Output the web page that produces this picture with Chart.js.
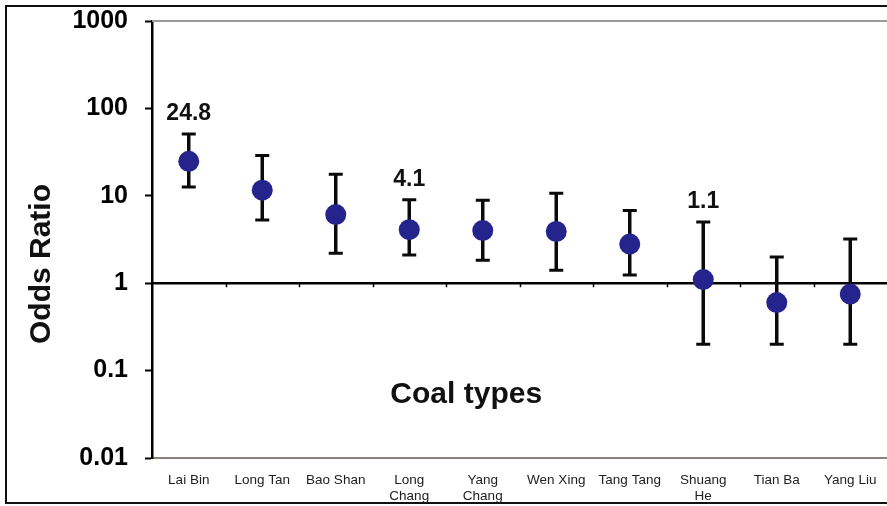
<!DOCTYPE html>
<html>
<head>
<meta charset="utf-8">
<script src="https://cdn.jsdelivr.net/npm/chart.js@4/dist/chart.umd.min.js"></script>
<style>
  html, body { margin: 0; padding: 0; background: #fff; overflow: hidden; }
  #wrap { width: 887px; height: 506px; position: relative; overflow: hidden; }
  #c { display: block; }
</style>
</head>
<body>
<div id="wrap"><canvas id="c" width="887" height="506"></canvas></div>
<script>
// Coal types and odds ratios with 95% confidence limits
const categories = [
  'Lai Bin', 'Long Tan', 'Bao Shan', ['Long', 'Chang'], ['Yang', 'Chang'],
  'Wen Xing', 'Tang Tang', ['Shuang', 'He'], 'Tian Ba', 'Yang Liu'
];
const oddsRatio = [24.8, 11.6, 6.1, 4.1, 4.0, 3.9, 2.8, 1.1, 0.6, 0.75];
const upperCI   = [51, 29, 17.6, 9.0, 8.9, 10.7, 6.8, 5.0, 2.0, 3.2];
const lowerCI   = [12.6, 5.3, 2.2, 2.1, 1.83, 1.41, 1.24, 0.2, 0.2, 0.2];
const labelledPoints = [0, 3, 7];
const yTicks = [0.01, 0.1, 1, 10, 100, 1000];
const referenceValue = 1;

const FONT = 'Liberation Sans, Arial, Helvetica, sans-serif';

function noScalePadding(scale) {
  scale.paddingTop = 0;
  scale.paddingBottom = 0;
  scale.paddingLeft = 0;
  scale.paddingRight = 0;
}

const overlay = {
  id: 'overlay',
  beforeDraw(chart) {
    const ctx = chart.ctx;
    ctx.save();
    ctx.fillStyle = '#ffffff';
    ctx.fillRect(0, 0, chart.width, chart.height);
    // outer frame
    ctx.strokeStyle = '#111';
    ctx.lineWidth = 2;
    ctx.strokeRect(6, 6, chart.width + 20, chart.height - 9);
    ctx.restore();
  },
  beforeDatasetsDraw(chart) {
    const ctx = chart.ctx;
    const {left, right, top, bottom} = chart.chartArea;
    const x = chart.scales.x, y = chart.scales.y;
    ctx.save();
    // top frame line of the plot
    ctx.strokeStyle = '#9a9a9a';
    ctx.lineWidth = 2;
    ctx.beginPath();
    ctx.moveTo(left, top);
    ctx.lineTo(right, top);
    ctx.stroke();
    // reference line at OR = 1 with category ticks
    const y1 = y.getPixelForValue(referenceValue);
    ctx.strokeStyle = '#000';
    ctx.lineWidth = 2.5;
    ctx.beginPath();
    ctx.moveTo(left, y1);
    ctx.lineTo(right, y1);
    ctx.stroke();
    const band = (right - left) / categories.length;
    ctx.lineWidth = 1.5;
    for (let k = 1; k < categories.length; k++) {
      const bx = Math.round(left + band * k) + 0.5;
      ctx.beginPath();
      ctx.moveTo(bx, y1);
      ctx.lineTo(bx, y1 + 4);
      ctx.stroke();
    }
    // confidence intervals
    ctx.strokeStyle = '#0a0a0a';
    for (let i = 0; i < categories.length; i++) {
      const px = x.getPixelForValue(i);
      const yu = y.getPixelForValue(upperCI[i]);
      const yl = y.getPixelForValue(lowerCI[i]);
      ctx.lineWidth = 3.5;
      ctx.beginPath();
      ctx.moveTo(px, yu);
      ctx.lineTo(px, yl);
      ctx.stroke();
      ctx.lineWidth = 3;
      ctx.beginPath();
      ctx.moveTo(px - 7, yu); ctx.lineTo(px + 7, yu);
      ctx.moveTo(px - 7, yl); ctx.lineTo(px + 7, yl);
      ctx.stroke();
    }
    ctx.restore();
  },
  afterDatasetsDraw(chart) {
    const ctx = chart.ctx;
    const {left, right, top, bottom} = chart.chartArea;
    const x = chart.scales.x, y = chart.scales.y;
    ctx.save();
    ctx.fillStyle = '#111';
    ctx.textAlign = 'center';
    ctx.textBaseline = 'middle';
    // value labels above the interval
    ctx.font = 'bold 23px ' + FONT;
    labelledPoints.forEach(i => {
      ctx.fillText(oddsRatio[i].toFixed(1), x.getPixelForValue(i), y.getPixelForValue(upperCI[i]) - 20);
    });
    // in-plot x axis caption
    ctx.font = 'bold 30px ' + FONT;
    ctx.fillText('Coal types', left + (right - left) * 0.4275, top + (bottom - top) * 0.856);
    // y axis caption
    ctx.translate(42, 264);
    ctx.rotate(-Math.PI / 2);
    ctx.font = 'bold 30px ' + FONT;
    ctx.fillText('Odds Ratio', 0, 0);
    ctx.restore();
  }
};

new Chart(document.getElementById('c'), {
  type: 'line',
  data: {
    labels: categories,
    datasets: [{
      data: oddsRatio,
      showLine: false,
      pointRadius: 10.5,
      pointHoverRadius: 10.5,
      pointBackgroundColor: '#24248c',
      pointBorderWidth: 0
    }]
  },
  options: {
    responsive: false,
    animation: false,
    events: [],
    layout: { autoPadding: false, padding: { top: 21, left: 0, right: 0, bottom: 0 } },
    plugins: { legend: { display: false }, tooltip: { enabled: false }, title: { display: false } },
    scales: {
      x: {
        type: 'category',
        offset: true,
        grid: { display: false, drawTicks: false },
        border: { display: true, color: '#8d817c', width: 2 },
        ticks: {
          color: '#222',
          font: { family: FONT, size: 13.5 },
          padding: 14,
          maxRotation: 0,
          autoSkip: false
        },
        afterFit(scale) { scale.height = 48; noScalePadding(scale); }
      },
      y: {
        type: 'logarithmic',
        min: 0.01,
        max: 1000,
        afterBuildTicks(scale) { scale.ticks = yTicks.map(v => ({ value: v })); },
        grid: { drawOnChartArea: false, drawTicks: true, tickLength: 7, tickColor: '#000', tickWidth: 2 },
        border: { display: true, color: '#000', width: 2.5 },
        ticks: {
          color: '#000',
          font: { family: FONT, size: 25, weight: 'bold' },
          padding: 17,
          callback: v => String(v)
        },
        afterFit(scale) { scale.width = 152; noScalePadding(scale); }
      }
    }
  },
  plugins: [overlay]
});
</script>
</body>
</html>
